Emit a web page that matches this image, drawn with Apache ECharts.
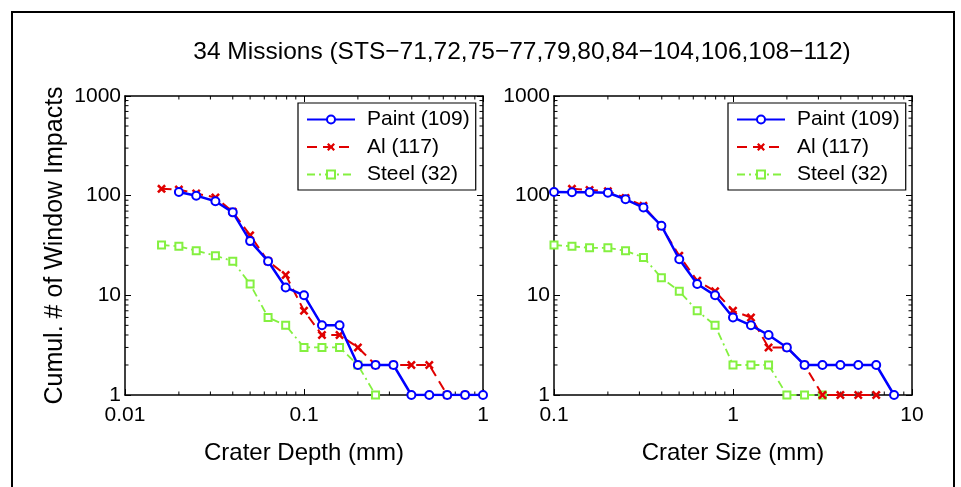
<!DOCTYPE html>
<html>
<head>
<meta charset="utf-8">
<script src="https://cdn.jsdelivr.net/npm/echarts@6/dist/echarts.min.js"></script>
<style>
  html, body { margin: 0; padding: 0; background: #fff; }
  #chart { width: 961px; height: 487px; }
</style>
</head>
<body>
<div id="chart"></div>
<script>
// crater depth bins (mm) and crater size bins (mm)
var depthBins = [0.016, 0.02, 0.025, 0.032, 0.04, 0.05, 0.063, 0.079, 0.1, 0.126,
                 0.158, 0.2, 0.251, 0.316, 0.398, 0.501, 0.631, 0.794, 1.0];
var sizeBins = [0.1, 0.126, 0.158, 0.2, 0.251, 0.316, 0.398, 0.501, 0.631, 0.794,
                1.0, 1.26, 1.58, 2.0, 2.51, 3.16, 3.98, 5.01, 6.31, 7.94];

// cumulative counts, left plot (depth); first bin index in depthBins
var paintDepthStart = 1;
var paintDepth = [109, 100, 88, 68, 35, 22, 12, 10, 5, 5, 2, 2, 2, 1, 1, 1, 1, 1];
var alDepthStart = 0;
var alDepth = [117, 115, 105, 96, 69, 40, 22, 16, 7, 4, 4, 3, 2, 2, 2, 2, 1, 1];
var steelDepthStart = 0;
var steelDepth = [32, 31, 28, 25, 22, 13, 6, 5, 3, 3, 3, 2, 1];

// cumulative counts, right plot (size); first bin index in sizeBins
var paintSizeStart = 0;
var paintSize = [109, 108, 108, 107, 92, 76, 50, 23, 13, 10, 6, 5, 4, 3, 2, 2, 2, 2, 2, 1];
var alSizeStart = 1;
var alSize = [117, 114, 111, 95, 79, 49, 25, 14, 11, 7, 6, 3, 3, 2, 1, 1, 1, 1];
var steelSizeStart = 0;
var steelSize = [32, 31, 30, 30, 28, 24, 15, 11, 7, 5, 2, 2, 2, 1, 1, 1];

var seriesNames = ["Paint (109)", "Al (117)", "Steel (32)"];
var depthRange = [0.01, 1];
var sizeRange = [0.1, 10];
var countRange = [1, 1000];

// minor tick values for the log axes
var depthMinor = [0.02, 0.03, 0.04, 0.05, 0.06, 0.07, 0.08, 0.09, 0.2, 0.3, 0.4, 0.5, 0.6, 0.7, 0.8, 0.9];
var sizeMinor = [0.2, 0.3, 0.4, 0.5, 0.6, 0.7, 0.8, 0.9, 2, 3, 4, 5, 6, 7, 8, 9];
var countMinor = [2, 3, 4, 5, 6, 7, 8, 9, 20, 30, 40, 50, 60, 70, 80, 90, 200, 300, 400, 500, 600, 700, 800, 900];

var FONT = "Liberation Sans, Arial, Helvetica, sans-serif";
var X_SYMBOL = "path://M0,2L2,0L5,3L8,0L10,2L7,5L10,8L8,10L5,7L2,10L0,8L3,5Z";

function pairs(bins, start, ys) {
  return ys.map(function (y, i) { return [bins[start + i], y]; });
}

function fmt(v) { return String(+Number(v).toPrecision(3)); }

function mainX(gi, range, name) {
  return {
    type: "log", logBase: 10, gridIndex: gi, min: range[0], max: range[1],
    position: "bottom",
    name: name, nameLocation: "middle", nameGap: 46,
    nameTextStyle: { color: "#000", fontSize: 24, fontFamily: FONT },
    axisLine: { show: true, onZero: false, lineStyle: { color: "#000", width: 1.5 } },
    axisTick: { show: true, inside: true, length: 6, lineStyle: { color: "#000" } },
    axisLabel: { color: "#000", fontSize: 21, fontFamily: FONT, margin: 10, formatter: fmt },
    splitLine: { show: false }
  };
}

function mirrorX(gi, range) {
  return {
    type: "log", logBase: 10, gridIndex: gi, min: range[0], max: range[1],
    position: "top",
    axisLine: { show: true, onZero: false, lineStyle: { color: "#000", width: 1.5 } },
    axisTick: { show: true, inside: true, length: 6, lineStyle: { color: "#000" } },
    axisLabel: { show: false }, splitLine: { show: false }
  };
}

function mainY(gi, name) {
  return {
    type: "log", logBase: 10, gridIndex: gi, min: countRange[0], max: countRange[1],
    position: "left",
    name: name, nameLocation: "middle", nameGap: 57,
    nameTextStyle: { color: "#000", fontSize: 25, fontFamily: FONT },
    axisLine: { show: true, onZero: false, lineStyle: { color: "#000", width: 1.5 } },
    axisTick: { show: true, inside: true, length: 6, lineStyle: { color: "#000" } },
    axisLabel: { color: "#000", fontSize: 21, fontFamily: FONT, margin: 4, formatter: fmt },
    splitLine: { show: false }
  };
}

function mirrorY(gi) {
  return {
    type: "log", logBase: 10, gridIndex: gi, min: countRange[0], max: countRange[1],
    position: "right",
    axisLine: { show: true, onZero: false, lineStyle: { color: "#000", width: 1.5 } },
    axisTick: { show: true, inside: true, length: 6, lineStyle: { color: "#000" } },
    axisLabel: { show: false }, splitLine: { show: false }
  };
}

function dataSeries(ai, p, a, s) {
  return [
    { name: seriesNames[0], type: "line", xAxisIndex: ai, yAxisIndex: ai, data: p,
      symbol: "emptyCircle", symbolSize: 8, z: 4,
      lineStyle: { color: "#0000ff", width: 2.5 },
      itemStyle: { color: "#0000ff", borderColor: "#0000ff", borderWidth: 2 } },
    { name: seriesNames[1], type: "line", xAxisIndex: ai, yAxisIndex: ai, data: a,
      symbol: X_SYMBOL, symbolSize: 9, z: 3,
      lineStyle: { color: "#e00000", width: 2, type: [10, 6] },
      itemStyle: { color: "#e00000" } },
    { name: seriesNames[2], type: "line", xAxisIndex: ai, yAxisIndex: ai, data: s,
      symbol: "emptyRect", symbolSize: 7, z: 2,
      lineStyle: { color: "#84f040", width: 1.8, type: [8, 4, 2, 4] },
      itemStyle: { color: "#84f040", borderColor: "#84f040", borderWidth: 2 } }
  ];
}

// minor ticks drawn through the axes' own scales
function minorTickSeries(ai, xRange, xMinor) {
  var data = [];
  xMinor.forEach(function (v) { data.push([v, countRange[0], 0]); data.push([v, countRange[1], 1]); });
  countMinor.forEach(function (v) { data.push([xRange[0], v, 2]); data.push([xRange[1], v, 3]); });
  return {
    type: "custom", xAxisIndex: ai, yAxisIndex: ai, silent: true, clip: false, z: 1,
    data: data,
    renderItem: function (params, api) {
      var pt = api.coord([api.value(0), api.value(1)]);
      var k = api.value(2), L = 3.5;
      var d = [[0, -L], [0, L], [L, 0], [-L, 0]][k];
      return { type: "line",
               shape: { x1: pt[0], y1: pt[1], x2: pt[0] + d[0], y2: pt[1] + d[1] },
               style: { stroke: "#000", lineWidth: 1 } };
    }
  };
}

function legend(left) {
  return {
    orient: "vertical", left: left, top: 103,
    data: seriesNames, selectedMode: false,
    backgroundColor: "#fff", borderColor: "#000", borderWidth: 1.2, borderRadius: 0,
    padding: [6, 6, 5, 8], itemGap: 6.5, itemWidth: 48, itemHeight: 10,
    textStyle: { color: "#000", fontSize: 21, fontFamily: FONT, padding: [0, 0, 0, 7] }
  };
}

var chart = echarts.init(document.getElementById("chart"), null, { renderer: "canvas" });
chart.setOption({
  animation: false,
  backgroundColor: "#fff",
  textStyle: { fontFamily: FONT },
  graphic: [
    { type: "rect", shape: { x: 12, y: 12, width: 942, height: 495 },
      style: { fill: "none", stroke: "#000", lineWidth: 2 }, silent: true },
    { type: "text", x: 522, y: 52,
      style: { text: "34 Missions (STS\u221271,72,75\u221277,79,80,84\u2212104,106,108\u2212112)",
               fill: "#000", fontSize: 24.5, fontFamily: FONT, align: "center", verticalAlign: "middle" } }
  ],
  legend: [legend(298), legend(728)],
  grid: [
    { left: 125, top: 96, width: 358, height: 299 },
    { left: 554, top: 96, width: 358, height: 299 }
  ],
  xAxis: [
    mainX(0, depthRange, "Crater Depth (mm)"),
    mirrorX(0, depthRange),
    mainX(1, sizeRange, "Crater Size (mm)"),
    mirrorX(1, sizeRange)
  ],
  yAxis: [
    mainY(0, "Cumul. # of Window Impacts"),
    mirrorY(0),
    mainY(1, ""),
    mirrorY(1)
  ],
  series: [].concat(
    dataSeries(0, pairs(depthBins, paintDepthStart, paintDepth),
                  pairs(depthBins, alDepthStart, alDepth),
                  pairs(depthBins, steelDepthStart, steelDepth)),
    dataSeries(2, pairs(sizeBins, paintSizeStart, paintSize),
                  pairs(sizeBins, alSizeStart, alSize),
                  pairs(sizeBins, steelSizeStart, steelSize)),
    [minorTickSeries(0, depthRange, depthMinor), minorTickSeries(2, sizeRange, sizeMinor)]
  )
});
</script>
</body>
</html>
